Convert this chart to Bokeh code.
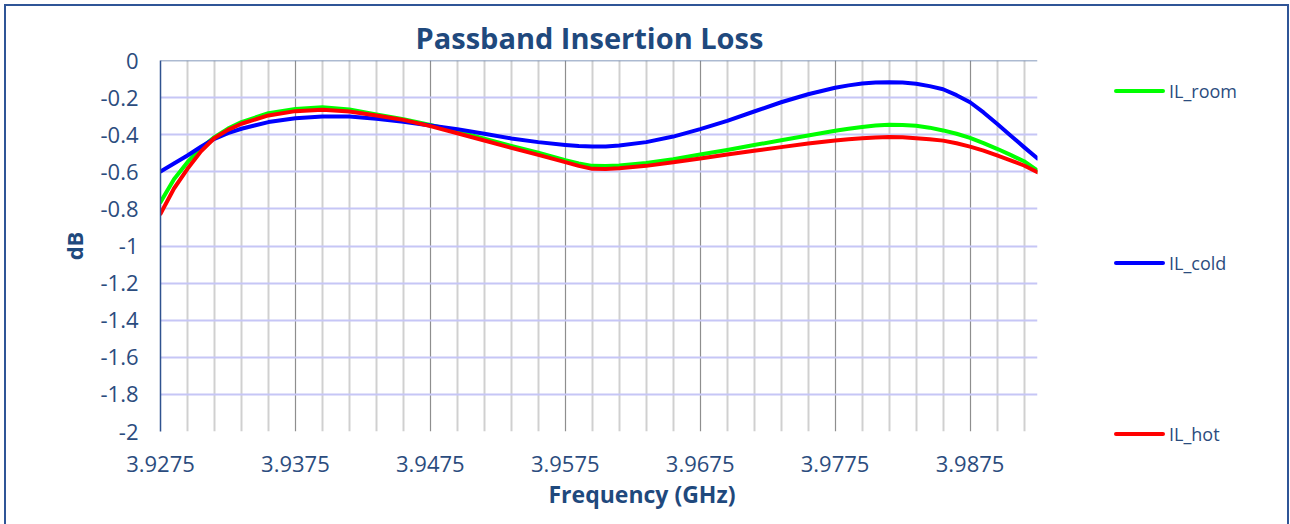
from bokeh.plotting import figure
from bokeh.layouts import row
from bokeh.models import (Range1d, FixedTicker, NumeralTickFormatter, Span,
                          Title, Div)
from bokeh.embed import file_html
from bokeh.resources import INLINE

# ---------------- data ----------------
freq_ghz = [3.9275, 3.9285, 3.9295, 3.9305, 3.9315, 3.9325, 3.9335, 3.9355,
            3.9375, 3.9395, 3.9415, 3.9435, 3.9455, 3.9475, 3.9495, 3.9515,
            3.9535, 3.9555, 3.9575, 3.9585, 3.9595, 3.9605, 3.9615, 3.9635,
            3.9655, 3.9675, 3.9695, 3.9715, 3.9735, 3.9755, 3.9775, 3.9785,
            3.9795, 3.9805, 3.9815, 3.9825, 3.9835, 3.9845, 3.9855, 3.9865,
            3.9875, 3.9885, 3.9895, 3.9905, 3.9915, 3.9925]

il_room = [-0.764, -0.640, -0.548, -0.472, -0.413, -0.367, -0.332, -0.284,
           -0.261, -0.252, -0.264, -0.291, -0.316, -0.347, -0.383, -0.422,
           -0.460, -0.497, -0.537, -0.555, -0.568, -0.569, -0.566, -0.553,
           -0.532, -0.507, -0.482, -0.456, -0.430, -0.404, -0.379, -0.368,
           -0.358, -0.351, -0.347, -0.348, -0.352, -0.362, -0.377, -0.395,
           -0.417, -0.445, -0.476, -0.509, -0.543, -0.593]

il_cold = [-0.598, -0.555, -0.512, -0.465, -0.422, -0.392, -0.368, -0.332,
           -0.311, -0.302, -0.302, -0.314, -0.330, -0.350, -0.370, -0.395,
           -0.420, -0.440, -0.455, -0.461, -0.464, -0.463, -0.458, -0.440,
           -0.410, -0.370, -0.325, -0.275, -0.225, -0.182, -0.147, -0.134,
           -0.124, -0.119, -0.117, -0.119, -0.125, -0.138, -0.155, -0.187,
           -0.225, -0.280, -0.341, -0.404, -0.467, -0.528]

il_hot = [-0.827, -0.690, -0.584, -0.490, -0.418, -0.374, -0.341, -0.296,
          -0.273, -0.266, -0.275, -0.296, -0.320, -0.354, -0.392, -0.431,
          -0.471, -0.509, -0.548, -0.568, -0.584, -0.585, -0.581, -0.568,
          -0.549, -0.528, -0.507, -0.487, -0.467, -0.448, -0.431, -0.424,
          -0.419, -0.415, -0.413, -0.414, -0.419, -0.424, -0.432, -0.446,
          -0.464, -0.486, -0.512, -0.538, -0.566, -0.602]

x_major_ticks = [3.9275, 3.9375, 3.9475, 3.9575, 3.9675, 3.9775, 3.9875]
x_minor_ticks = [3.9295, 3.9315, 3.9335, 3.9355,
                 3.9395, 3.9415, 3.9435, 3.9455,
                 3.9495, 3.9515, 3.9535, 3.9555,
                 3.9595, 3.9615, 3.9635, 3.9655,
                 3.9695, 3.9715, 3.9735, 3.9755,
                 3.9795, 3.9815, 3.9835, 3.9855,
                 3.9895, 3.9915]
y_ticks = [0, -0.2, -0.4, -0.6, -0.8, -1, -1.2, -1.4, -1.6, -1.8, -2]

series_names = ["IL_room", "IL_cold", "IL_hot"]
series_colors = ["#00FF00", "#0000FF", "#FF0000"]

# ---------------- style ----------------
FONT = "Open Sans"
TXT = "#1F497D"
TICK_TXT = "#2B4C7E"
H = 518

p = figure(width=1056, height=H, output_backend="svg", toolbar_location=None,
           x_range=Range1d(3.9275, 3.9925), y_range=Range1d(-2, 0),
           min_border_left=154, min_border_top=54, min_border_right=25,
           min_border_bottom=93, title="Passband Insertion Loss")

p.background_fill_color = "white"
p.border_fill_color = "white"
p.outline_line_color = None

p.title.align = "left"
p.title.offset = 255
p.title.standoff = 7
p.title.text_font = FONT
p.title.text_font_size = "29px"
p.title.text_font_style = "bold"
p.title.text_color = TXT

# axes
p.xaxis.ticker = FixedTicker(ticks=x_major_ticks, minor_ticks=x_minor_ticks)
p.yaxis.ticker = FixedTicker(ticks=y_ticks)
p.xaxis.formatter = NumeralTickFormatter(format="0.0000")
p.yaxis.formatter = NumeralTickFormatter(format="0.[0]")
for ax in (p.xaxis, p.yaxis):
    ax.major_tick_line_color = None
    ax.minor_tick_line_color = None
    ax.major_tick_out = 0
    ax.major_tick_in = 0
    ax.major_label_text_font = FONT
    ax.major_label_text_font_size = "22px"
    ax.major_label_text_color = TICK_TXT
p.xaxis.axis_line_color = None
p.xaxis.major_label_standoff = 20
p.yaxis.axis_line_color = "#2F528F"
p.yaxis.axis_line_width = 1.5
p.yaxis.major_label_standoff = 22
p.yaxis.axis_label = "dB"
p.yaxis.axis_label_text_font = FONT
p.yaxis.axis_label_text_font_size = "22px"
p.yaxis.axis_label_text_font_style = "bold"
p.yaxis.axis_label_text_color = TXT
p.yaxis.axis_label_standoff = 8

p.add_layout(Title(text="Frequency (GHz)", align="left", offset=388,
                   text_font=FONT, text_font_size="23px", text_font_style="bold",
                   text_color=TXT, standoff=2), "below")

# grids
p.xgrid.grid_line_color = "#8E8E8E"
p.xgrid.grid_line_width = 1.2
p.xgrid.minor_grid_line_color = "#D0D0D0"
p.xgrid.minor_grid_line_width = 2
p.ygrid.grid_line_color = "#C6C6F6"
p.ygrid.grid_line_width = 2

p.add_layout(Span(location=0, dimension="width", line_color="#5B77A3",
                  line_width=1.5))

for vals, col in zip([il_room, il_cold, il_hot], series_colors):
    p.line(freq_ghz, vals, line_color=col, line_width=4, line_join="round",
           line_cap="round")

# ---------------- legend (HTML, outside the plot frame) ----------------
legend_centers = [85, 257, 428]   # vertical position of each key in the side panel
parts = []
for name, col, cy in zip(series_names, series_colors, legend_centers):
    parts.append(
        f'<div style="position:absolute;left:52px;top:{cy - 2}px;width:51px;'
        f'height:4px;background:{col};border-radius:2px;"></div>'
        f'<div style="position:absolute;left:107px;top:{cy - 13}px;height:26px;'
        f'line-height:26px;white-space:nowrap;">{name}</div>')
legend_div = Div(
    text=(f'<div style="position:relative;width:225px;height:{H}px;'
          f'font-family:\'Open Sans\';font-size:18px;color:{TICK_TXT};">'
          + "".join(parts) + '</div>'),
    width=225, height=H, styles={"margin": "0", "padding": "0"})

layout = row(p, legend_div, spacing=0,
             styles={"border-left": "2px solid #2F5597",
                     "border-top": "2px solid #2F5597",
                     "border-right": "2px solid #2F5597",
                     "margin-left": "4px", "margin-top": "4px"})

open("out.html", "w").write(file_html(layout, INLINE))
